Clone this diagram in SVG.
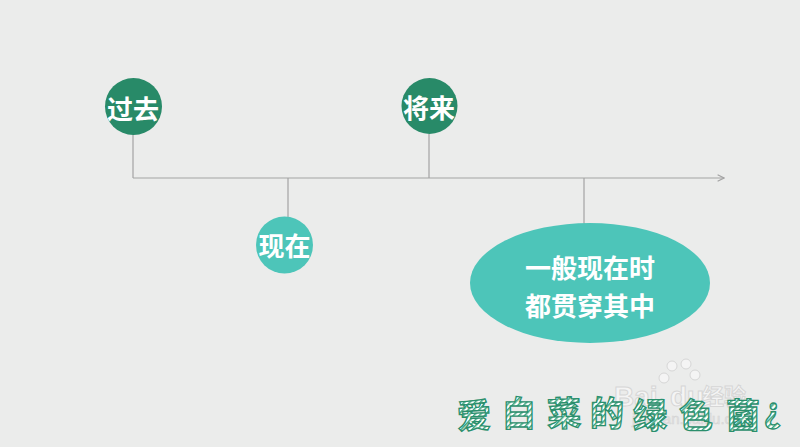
<svg xmlns="http://www.w3.org/2000/svg" width="800" height="447" viewBox="0 0 800 447">
<defs>
<style>
.lbl{font-family:"Noto Sans CJK SC","Noto Sans",sans-serif;font-weight:bold;fill:#ffffff;text-anchor:middle}
.ln{stroke:#a3a3a3;stroke-width:1.2;fill:none}
.sig{font-family:"Noto Sans CJK SC",sans-serif;font-weight:bold;font-size:34px;fill:url(#hatch);stroke:#2a8f6c;stroke-width:1.3}
.wm{font-family:"Liberation Sans","Noto Sans CJK SC",sans-serif;font-weight:bold;fill:#f4f4f4;stroke:#d6d6d6;stroke-width:1}
</style>
<pattern id="hatch" patternUnits="userSpaceOnUse" width="4" height="4" patternTransform="rotate(45)">
<rect width="4" height="4" fill="#ffffff"/>
<rect width="1.6" height="4" fill="#3aa57f"/>
</pattern>
<marker id="arr" viewBox="0 0 10 10" refX="9" refY="5" markerWidth="8" markerHeight="8" markerUnits="userSpaceOnUse" orient="auto">
<path d="M1,1 L9,5 L1,9" fill="none" stroke="#a3a3a3" stroke-width="1.4"/>
</marker>
</defs>
<rect width="800" height="447" fill="#ebeceb"/>
<g id="connectors">
<line class="ln" x1="133" y1="178" x2="724" y2="178" marker-end="url(#arr)"/>
<line class="ln" x1="133" y1="134" x2="133" y2="178"/>
<line class="ln" x1="429" y1="134" x2="429" y2="178"/>
<line class="ln" x1="288" y1="178" x2="288" y2="218"/>
<line class="ln" x1="584" y1="178" x2="584" y2="224"/>
</g>
<g id="node-past">
<circle cx="133.5" cy="106.5" r="28.5" fill="#288a68"/>
<text class="lbl" x="133" y="119" font-size="26">过去</text>
</g>
<g id="node-future">
<circle cx="429.5" cy="106" r="28" fill="#288a68"/>
<text class="lbl" x="429" y="118" font-size="26">将来</text>
</g>
<g id="node-present">
<circle cx="284.5" cy="245" r="28.5" fill="#4dc5b9"/>
<text class="lbl" x="284.5" y="256" font-size="26">现在</text>
</g>
<g id="node-general">
<ellipse cx="590" cy="283" rx="120" ry="60" fill="#4dc5b9"/>
<text class="lbl" x="590" y="278" font-size="26">一般现在时</text>
<text class="lbl" x="590" y="316" font-size="26">都贯穿其中</text>
</g>
<g id="watermark">
<circle cx="672" cy="366" r="5" fill="#f4f4f4" stroke="#d6d6d6"/>
<circle cx="686" cy="364" r="5" fill="#f4f4f4" stroke="#d6d6d6"/>
<circle cx="664" cy="378" r="5" fill="#f4f4f4" stroke="#d6d6d6"/>
<circle cx="695" cy="375" r="5" fill="#f4f4f4" stroke="#d6d6d6"/>
<text class="wm" x="614" y="406" font-size="28">Bai</text>
<text class="wm" x="670" y="406" font-size="28">du</text>
<text class="wm" x="702" y="404" font-size="22">经验</text>
<text x="632" y="424" font-family="Liberation Sans,sans-serif" font-size="15" fill="#e2e2e2" stroke="#d4d4d4" stroke-width="0.5">jingyan.baidu.com</text>
</g>
<g id="signature">
<text class="sig" x="457" y="428" transform="rotate(-3 474 412)">爱</text>
<text class="sig" x="502" y="426">白</text>
<text class="sig" x="547" y="426" transform="rotate(-2 564 410)">菜</text>
<text class="sig" x="590" y="426">的</text>
<text class="sig" x="633" y="428">绿</text>
<text class="sig" x="679" y="428">色</text>
<text class="sig" x="726" y="428">菌</text>
<text class="sig" x="764" y="422" font-size="26">¿</text>
</g>
</svg>
